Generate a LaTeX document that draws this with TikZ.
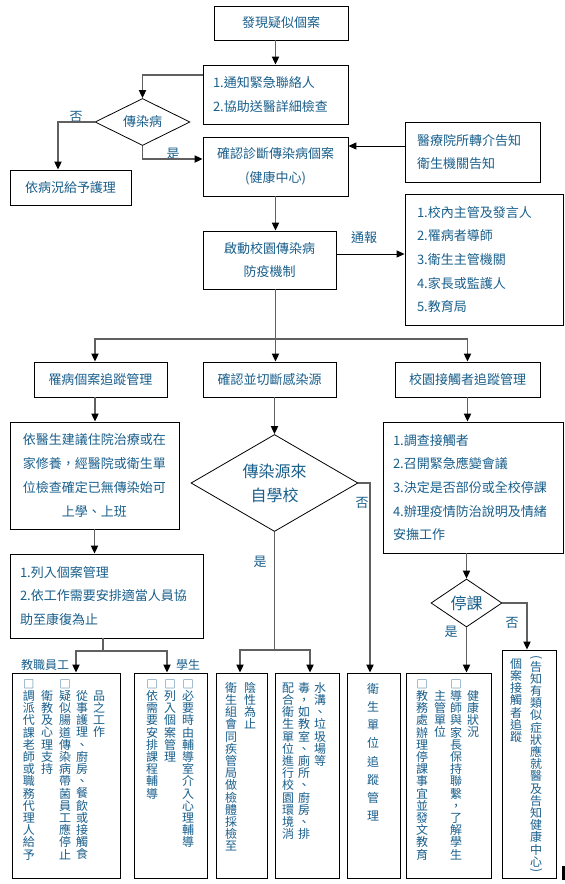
\documentclass[tikz,border=0pt]{standalone}
\usepackage{fontspec}
\usepackage{graphicx}
\setmainfont{Noto Sans CJK TC}
\usetikzlibrary{arrows.meta,shapes.geometric}
\definecolor{txtblue}{RGB}{25,95,140}
\definecolor{linegray}{RGB}{96,96,96}
\newcommand\vsq{{\fontsize{11}{11}\selectfont □}}
\newcommand\vlp{\rotatebox[origin=c]{-90}{(}}
\newcommand\vrp{\rotatebox[origin=c]{-90}{)}}
\def\vstack#1{\ifx#1\relax\else\hbox to 12pt{\vrule height 10pt depth 2.2pt width 0pt\hss#1\hss}\expandafter\vstack\fi}
\newcommand\vcol[2][12.2pt]{\vtop{\baselineskip=#1\lineskiplimit=-\maxdimen\vstack#2\relax}}
\begin{document}
\begin{tikzpicture}[x=1pt,y=-1pt,
    txt/.style={text=txtblue,font=\fontsize{13}{23.7}\selectfont},
    box/.style={draw,line width=0.8pt,inner sep=0pt,txt,align=center},
    listbox/.style={box,align=left},
    dia/.style={diamond,draw,line width=0.8pt,aspect=2,inner sep=0pt,txt,align=center},
    vtxt/.style={text=txtblue,font=\fontsize{12}{12}\selectfont,inner sep=0pt,anchor=north},
    conn/.style={draw=linegray,line width=1.8pt,-{Triangle[length=8pt,width=7pt,color=black]}},
    bconn/.style={draw=black,line width=1pt,-{Triangle[length=8pt,width=7pt]}}]
    \path[fill=white] (0,0) rectangle (565,884);

    \node[box,minimum width=134pt,minimum height=34pt] (find) at (281,23) {發現疑似個案};
    \node[listbox,minimum height=59pt,text width=125pt,inner xsep=10pt] (notify) at (275.5,94.5) {1.通知緊急聯絡人\\2.協助送醫詳細檢查};
    \node[dia,minimum width=95pt,minimum height=47pt] (infect) at (142.5,122) {傳染病};
    \node[box,minimum width=121pt,minimum height=35pt] (care) at (70.5,187.5) {依病況給予護理};
    \node[box,minimum width=145pt,minimum height=59pt] (confirm) at (275.5,166.5) {確認診斷傳染病個案\\(健康中心)};
    \node[listbox,minimum height=60pt,text width=111pt,inner xsep=12pt] (hosp) at (472.5,152) {醫療院所轉介告知\\衛生機關告知};
    \node[listbox,minimum height=131pt,text width=134pt,inner xsep=12pt] (list) at (484,259.5) {1.校內主管及發言人\\2.罹病者導師\\3.衛生主管機關\\4.家長或監護人\\5.教育局};
    \node[box,minimum width=133pt,minimum height=58pt] (launch) at (269.5,260) {啟動校園傳染病\\防疫機制};

    \node[box,minimum width=133pt,minimum height=35pt] (track) at (100.5,379.5) {罹病個案追蹤管理};
    \node[box,minimum width=133pt,minimum height=35pt] (source) at (269.5,379.5) {確認並切斷感染源};
    \node[box,minimum width=145pt,minimum height=35pt] (contact) at (467.5,379.5) {校園接觸者追蹤管理};

    \node[box,minimum width=169pt,minimum height=107pt] (advice) at (94.5,475.5) {依醫生建議住院治療或在\\家修養，經醫院或衛生單\\位檢查確定已無傳染始可\\上學、上班};
    \node[dia,minimum width=167pt,minimum height=97pt,font=\fontsize{16}{24}\selectfont] (origin) at (274.5,483) {傳染源來\\自學校};
    \node[listbox,minimum height=131pt,text width=160pt,inner xsep=10pt] (survey) at (473,487.5) {1.調查接觸者\\2.召開緊急應變會議\\3.決定是否部份或全校停課\\4.辦理疫情防治說明及情緒\\安撫工作};
    \node[dia,minimum width=71pt,minimum height=48pt,font=\fontsize{16}{20}\selectfont] (stop) at (466.5,603) {停課};
    \node[listbox,minimum height=84pt,text width=173pt,inner xsep=10pt] (listin) at (106.5,596) {1.列入個案管理\\2.依工作需要安排適當人員協\\助至康復為止};

    \node[box,minimum width=108pt,minimum height=205pt] (staff) at (66,775.5) {};
    \node[box,minimum width=73pt,minimum height=205pt] (student) at (170.5,775.5) {};
    \node[box,minimum width=51pt,minimum height=205pt] (swab) at (241.5,775.5) {};
    \node[box,minimum width=64pt,minimum height=205pt] (clean) at (307,775.5) {};
    \node[box,minimum width=53pt,minimum height=205pt] (health) at (373.5,775.5) {};
    \node[box,minimum width=85pt,minimum height=205pt] (teach) at (448.5,775.5) {};
    \node[box,minimum width=54pt,minimum height=228pt] (notice) at (529,764) {};

    \node[vtxt] (staffA) at (29,678) {\vcol{{\vsq}調派代課老師或職務代理人給予}};
    \node[vtxt] (staffB) at (47,690) {\vcol{衛教及心理支持}};
    \node[vtxt] (staffC) at (65,678) {\vcol{{\vsq}疑似腸道傳染病帶菌員工應停止}};
    \node[vtxt] (staffD) at (82,690) {\vcol{從事護理、廚房、餐飲或接觸食}};
    \node[vtxt] (staffE) at (99,690) {\vcol{品之工作}};
    \node[vtxt] (studentA) at (152,678) {\vcol{{\vsq}依需要安排課程輔導}};
    \node[vtxt] (studentB) at (170,678) {\vcol{{\vsq}列入個案管理}};
    \node[vtxt] (studentC) at (188,678) {\vcol{{\vsq}必要時由輔導室介入心理輔導}};
    \node[vtxt] (swabA) at (231,682) {\vcol{衛生組會同疾管局做檢體採檢至}};
    \node[vtxt] (swabB) at (250,682) {\vcol{陰性為止}};
    \node[vtxt] (cleanA) at (288,682) {\vcol{配合衛生單位進行校園環境消}};
    \node[vtxt] (cleanB) at (304,682) {\vcol{毒，如教室、廁所、廚房、排}};
    \node[vtxt] (cleanC) at (320,682) {\vcol{水溝、垃圾場等}};
    \node[vtxt] (healthA) at (373,683) {\vcol[18.2pt]{衛生單位追蹤管理}};
    \node[vtxt] (teachA) at (422,678) {\vcol{{\vsq}教務處辦理停課事宜並發文教育}};
    \node[vtxt] (teachB) at (440,690) {\vcol{主管單位}};
    \node[vtxt] (teachC) at (456,678) {\vcol{{\vsq}導師與家長保持聯繫，了解學生}};
    \node[vtxt] (teachD) at (473,690) {\vcol{健康狀況}};
    \node[vtxt] (noticeA) at (516,658) {\vcol{個案接觸者追蹤}};
    \node[vtxt] (noticeB) at (536,655) {\vtop{\offinterlineskip\hbox to 12pt{\hss\vlp\hss}\vcol{告知有類似症狀應就醫及告知健康中心}\hbox to 12pt{\hss\vrp\hss}}};

    \node[txt] (noA) at (76,117) {否};
    \node[txt] (yesA) at (173,154) {是};
    \node[txt] (report) at (364,238) {通報};
    \node[txt] (noB) at (362,503) {否};
    \node[txt] (yesB) at (260,562) {是};
    \node[txt] (noC) at (512,623) {否};
    \node[txt] (yesC) at (451,632) {是};
    \node[txt,font=\fontsize{12}{12}\selectfont] (staffLabel) at (45,665) {教職員工};
    \node[txt,font=\fontsize{12}{12}\selectfont] (studentLabel) at (188,665) {學生};

    \coordinate (hub) at (275,339);
    \coordinate (forkL) at (103,651);
    \coordinate (forkM) at (274.5,650);

    \draw[conn] (find.south -| confirm) -- (notify.north -| confirm);
    \draw[conn] ([yshift=-10pt]notify.north west) -| (infect.north);
    \draw[conn] (infect.west) -| ([xshift=-12.5pt]care.north);
    \draw[conn] (infect.south) |- ([yshift=7.5pt]confirm.west);
    \draw[bconn] ([yshift=6pt]hosp.west) -- ([yshift=6pt]hosp.west -| confirm.east);
    \draw[conn] (confirm.south) -- (confirm.south |- launch.north);
    \draw[bconn] ([yshift=6pt]launch.east) -- ([yshift=6pt]launch.east -| list.west);
    \draw[conn] (confirm.south |- launch.south) -- (confirm.south |- source.north);
    \draw[conn] (hub) -| ([xshift=-5.5pt]track.north);
    \draw[conn] (hub) -| (contact.north);
    \draw[conn] ([xshift=-5.5pt]track.south) -- ([xshift=-5.5pt]track.south |- advice.north);
    \draw[conn] (source.south -| origin) -- (origin.north);
    \draw[conn] (contact.south) -- (contact.south |- survey.north);
    \draw[conn] (advice.south) -- (advice.south |- listin.north);
    \draw[conn] (listin.south -| forkL) -- (forkL) -| ([xshift=10pt]staff.north);
    \draw[conn] (forkL) -| ([xshift=-3.5pt]student.north);
    \draw[conn] (origin.south) -- (forkM) -| ([xshift=-1.5pt]swab.north);
    \draw[conn] (forkM) -| ([xshift=3pt]clean.north);
    \draw[conn] (origin.east) -| ([xshift=-3.5pt]health.north);
    \draw[conn] (survey.south -| stop) -- (stop.north);
    \draw[conn] (stop.south) -- (stop.south |- teach.north);
    \draw[conn] (stop.east) -| ([xshift=-2pt]notice.north);

    \fill (562,866) rectangle (565,880);
\end{tikzpicture}
\end{document}
